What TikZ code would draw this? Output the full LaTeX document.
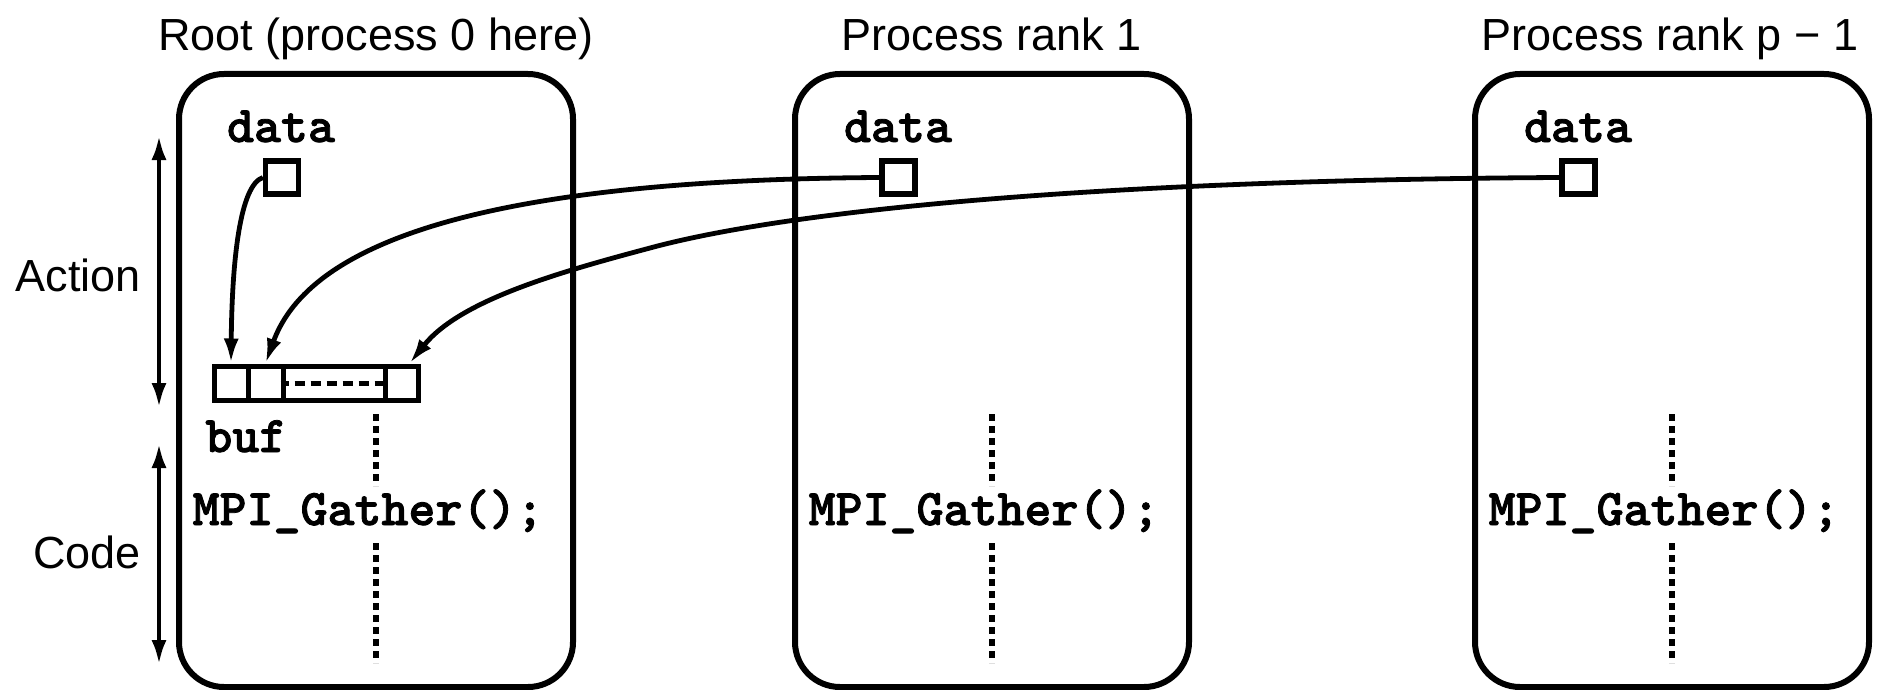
\documentclass[tikz,border=0pt]{standalone}
\usepackage{fontspec}
\setmainfont{Liberation Sans}
\newfontfamily\courfont{lmmonolt10-bold.otf}[FakeBold=1.6]
\usetikzlibrary{arrows.meta,calc}
\begin{document}
\begin{tikzpicture}[x=0.5pt,y=-0.5pt,
  proc/.style={draw, line width=3pt, rounded corners=22.5pt, minimum width=197pt, minimum height=306.5pt, inner sep=0pt},
  ttl/.style={font=\fontsize{22.5}{27}\selectfont, anchor=base, inner sep=0pt},
  code/.style={font=\courfont\fontsize{25.7}{30}\selectfont, anchor=base, inner sep=0pt},
  sq/.style={draw, line width=2.6pt, minimum size=16.5pt, inner sep=0pt},
  cell/.style={draw, line width=2.5pt, minimum height=17pt, inner sep=0pt},
  arr/.style={line width=2.4pt, -{Latex[length=12.5pt,width=7.5pt]}},
  dbl/.style={line width=2.4pt, {Latex[length=12.5pt,width=7.5pt]}-{Latex[length=12.5pt,width=7.5pt]}},
  dotln/.style={line width=3pt, dash pattern=on 3.5pt off 2.5pt},
  dashln/.style={line width=2.5pt, dash pattern=on 5pt off 3pt, dash phase=1pt}]
\useasboundingbox (0,0) rectangle (1878,690);
\fill[white] (0,0) rectangle (1878,690);

% process boxes
\node[proc] (p0) at (376,380.5) {};
\node[proc] (p1) at (992,380.5) {};
\node[proc] (p2) at (1672,380.5) {};

% titles
\node[ttl] (t0) at (376,51) {Root (process 0 here)};
\node[ttl] (t1) at (992,51) {Process rank 1};
\node[ttl] (t2) at (1670,51) {Process rank p − 1};

% side labels and arrows
\node[ttl, anchor=base east] (act) at (141,291) {Action};
\node[ttl, anchor=base east] (cod) at (141,568) {Code};
\coordinate (a1) at (159,135);
\coordinate (a2) at (159,408);
\coordinate (b1) at (159,443);
\coordinate (b2) at (159,665);
\draw[dbl] (a1) -- (a2);
\draw[dbl] (b1) -- (b2);

% data labels and squares
\node[code] (l0) at (281,142) {data};
\node[code] (l1) at (898,142) {data};
\node[code] (l2) at (1578,142) {data};
\node[sq] (d0) at (282,177.5) {};
\node[sq] (d1) at (898.5,177.5) {};
\node[sq] (d2) at (1578.5,177.5) {};

% buf array
\node[cell, minimum width=17pt] (c1) at (231,383) {};
\node[cell, minimum width=17.5pt] (c2) at (265.5,383) {};
\node[cell, minimum width=51pt] (cm) at (334,383) {};
\node[cell, minimum width=16.5pt] (c4) at (401.5,383) {};
\draw[dashln] (cm.west) -- (cm.east);
\node[code, anchor=base west] (bl) at (205,452) {buf};

% code lines
\node[code] (m0) at (368,525) {MPI\_Gather();};
\node[code] (m1) at (984,525) {MPI\_Gather();};
\node[code] (m2) at (1664,525) {MPI\_Gather();};

% dotted lines
\foreach \xx in {376,992,1672} {
  \draw[dotln] (\xx,414) -- (\xx,486);
  \draw[dotln] (\xx,543) -- (\xx,663);
}

% gather arrows
\draw[arr] (d0.west) .. controls (240,185) and (232,260) .. (c1.north);
\draw[arr] (d1.west) .. controls (450,180) and (305,254) .. (c2.north);
\draw[arr] (d2.west) .. controls (1100,180) and (790,210) .. (650,248)
  .. controls (560,272) and (460,300) .. ($(c4.north)+(8,0)$);
\end{tikzpicture}
\end{document}
